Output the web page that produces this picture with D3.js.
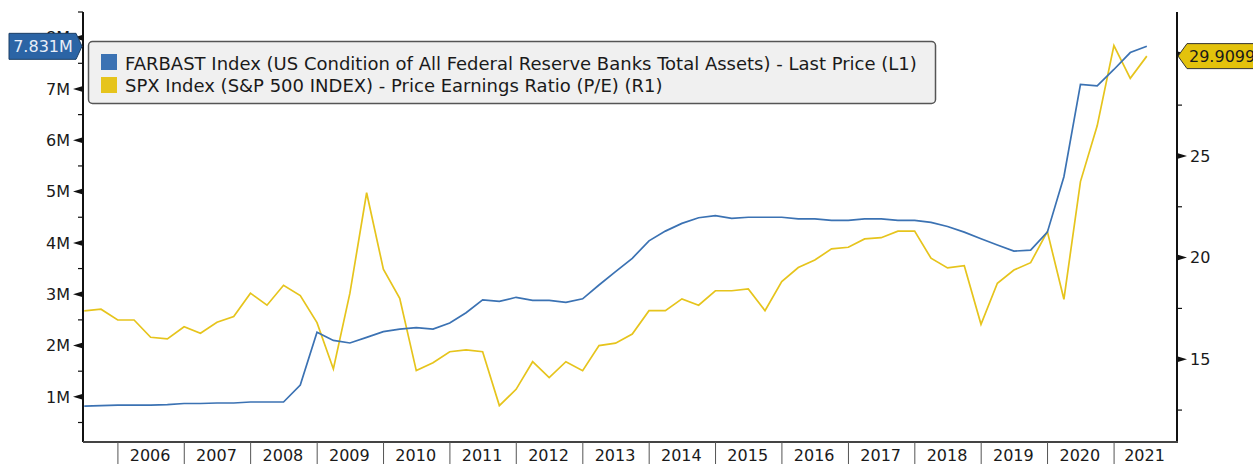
<!DOCTYPE html>
<html>
<head>
<meta charset="utf-8">
<script src="https://cdn.jsdelivr.net/npm/d3@7"></script>
<style>
  body { margin: 0; background: #fff; }
  text { font-family: "DejaVu Sans", Verdana, sans-serif; font-size: 16px; fill: #1a1a1a; }
  .legend text { font-size: 18px; }
</style>
</head>
<body>
<svg id="chart" width="1253" height="464"></svg>
<script>
// quarter end dates
var dates = [
  "2005-06-30","2005-09-30","2005-12-31",
  "2006-03-31","2006-06-30","2006-09-30","2006-12-31",
  "2007-03-31","2007-06-30","2007-09-30","2007-12-31",
  "2008-03-31","2008-06-30","2008-09-30","2008-12-31",
  "2009-03-31","2009-06-30","2009-09-30","2009-12-31",
  "2010-03-31","2010-06-30","2010-09-30","2010-12-31",
  "2011-03-31","2011-06-30","2011-09-30","2011-12-31",
  "2012-03-31","2012-06-30","2012-09-30","2012-12-31",
  "2013-03-31","2013-06-30","2013-09-30","2013-12-31",
  "2014-03-31","2014-06-30","2014-09-30","2014-12-31",
  "2015-03-31","2015-06-30","2015-09-30","2015-12-31",
  "2016-03-31","2016-06-30","2016-09-30","2016-12-31",
  "2017-03-31","2017-06-30","2017-09-30","2017-12-31",
  "2018-03-31","2018-06-30","2018-09-30","2018-12-31",
  "2019-03-31","2019-06-30","2019-09-30","2019-12-31",
  "2020-03-31","2020-06-30","2020-09-30","2020-12-31",
  "2021-03-31","2021-06-30"
];

// FARBAST, millions (shown as M)
var fedAssets = [
  0.82, 0.83, 0.84,
  0.84, 0.84, 0.85, 0.87,
  0.87, 0.88, 0.88, 0.90,
  0.90, 0.90, 1.23, 2.26,
  2.10, 2.05, 2.16, 2.27,
  2.32, 2.35, 2.32, 2.44,
  2.64, 2.89, 2.86, 2.94,
  2.88, 2.88, 2.84, 2.91,
  3.18, 3.44, 3.70, 4.04,
  4.23, 4.38, 4.49, 4.53,
  4.48, 4.50, 4.50, 4.50,
  4.47, 4.47, 4.44, 4.44,
  4.47, 4.47, 4.44, 4.44,
  4.40, 4.32, 4.21, 4.08,
  3.96, 3.84, 3.86, 4.21,
  5.29, 7.09, 7.06, 7.38,
  7.71, 7.831
];

// SPX P/E
var spxPE = [
  17.38, 17.46, 16.93,
  16.93, 16.08, 16.00, 16.60,
  16.28, 16.82, 17.10, 18.25,
  17.66, 18.64, 18.13, 16.80,
  14.52, 18.25, 23.19, 19.43,
  18.00, 14.44, 14.83, 15.37,
  15.46, 15.37, 12.72, 13.52,
  14.88, 14.10, 14.88, 14.44,
  15.67, 15.79, 16.24, 17.39,
  17.39, 17.97, 17.66, 18.37,
  18.37, 18.46, 17.39, 18.82,
  19.51, 19.88, 20.43, 20.51,
  20.92, 20.98, 21.30, 21.30,
  19.97, 19.49, 19.60, 16.72,
  18.74, 19.39, 19.75, 21.28,
  17.95, 23.74, 26.48, 30.43,
  28.82, 29.9099
];

var years = ["2006","2007","2008","2009","2010","2011","2012","2013","2014","2015","2016","2017","2018","2019","2020","2021"];
var leftTicks = [1, 2, 3, 4, 5, 6, 7, 8];
var rightTicks = [15, 20, 25, 30];

var legendLabels = [
  "FARBAST Index (US Condition of All Federal Reserve Banks Total Assets) - Last Price (L1)",
  "SPX Index (S&P 500 INDEX) - Price Earnings Ratio (P/E) (R1)"
];
var lastAssetsLabel = "7.831M";
var lastPELabel = "29.9099";

var blue = "#3b72b3", yellow = "#e6c41c";
var parse = d3.timeParse("%Y-%m-%d");

var plotL = 83, plotR = 1177, plotT = 12, plotB = 442;

var x = d3.scaleTime()
  .domain([parse("2005-06-23"), parse("2021-12-13")])
  .range([plotL, plotR]);
var yL = d3.scaleLinear().domain([0.12, 8.5]).range([plotB, plotT]);
var yR = d3.scaleLinear().domain([10.93, 32.08]).range([plotB, plotT]);

var svg = d3.select("#chart");

// lines
var blueData = dates.map(function(d, i) { return [parse(d), fedAssets[i]]; });
var yellowData = dates.map(function(d, i) { return [parse(d), spxPE[i]]; });

svg.append("path").datum(yellowData)
  .attr("fill", "none").attr("stroke", yellow).attr("stroke-width", 1.7)
  .attr("d", d3.line().x(function(d) { return x(d[0]); }).y(function(d) { return yR(d[1]); }));
svg.append("path").datum(blueData)
  .attr("fill", "none").attr("stroke", blue).attr("stroke-width", 1.7)
  .attr("d", d3.line().x(function(d) { return x(d[0]); }).y(function(d) { return yL(d[1]); }));

// left axis
svg.append("line").attr("x1", plotL).attr("x2", plotL).attr("y1", plotT).attr("y2", plotB)
  .attr("stroke", "#111").attr("stroke-width", 2);
leftTicks.forEach(function(v) {
  var yy = yL(v);
  svg.append("path").attr("d", "M" + plotL + "," + (yy - 3) + "L" + (plotL - 10) + "," + yy + "L" + plotL + "," + (yy + 3) + "Z")
    .attr("fill", "#111");
  svg.append("text").attr("x", 70).attr("y", yy).attr("dy", "0.36em")
    .attr("text-anchor", "end").text(v + "M");
  var mv = v - 0.5;
  svg.append("line").attr("x1", plotL - 5).attr("x2", plotL).attr("y1", yL(mv)).attr("y2", yL(mv))
    .attr("stroke", "#111").attr("stroke-width", 1.2);
});
svg.append("line").attr("x1", plotL - 5).attr("x2", plotL).attr("y1", yL(8.5)).attr("y2", yL(8.5))
  .attr("stroke", "#111").attr("stroke-width", 1.2);

// right axis
svg.append("line").attr("x1", plotR).attr("x2", plotR).attr("y1", plotT).attr("y2", plotB)
  .attr("stroke", "#111").attr("stroke-width", 2);
rightTicks.forEach(function(v) {
  var yy = yR(v);
  svg.append("path").attr("d", "M" + plotR + "," + (yy - 3) + "L" + (plotR + 10) + "," + yy + "L" + plotR + "," + (yy + 3) + "Z")
    .attr("fill", "#111");
  svg.append("text").attr("x", 1190).attr("y", yy).attr("dy", "0.36em").text(v);
  var mv = v - 2.5;
  svg.append("line").attr("x1", plotR).attr("x2", plotR + 5).attr("y1", yR(mv)).attr("y2", yR(mv))
    .attr("stroke", "#111").attr("stroke-width", 1.2);
});

// bottom axis
svg.append("line").attr("x1", plotL).attr("x2", plotR + 1).attr("y1", plotB).attr("y2", plotB)
  .attr("stroke", "#444").attr("stroke-width", 2);
years.forEach(function(yr) {
  var x0 = x(parse(yr + "-01-01")), x1 = x(parse((+yr + 1) + "-01-01"));
  svg.append("line").attr("x1", x0).attr("x2", x0).attr("y1", plotB).attr("y2", 464)
    .attr("stroke", "#555").attr("stroke-width", 1);
  svg.append("text").attr("x", (x0 + Math.min(x1, plotR)) / 2 - 1).attr("y", 461)
    .attr("text-anchor", "middle").text(yr);
});

// legend
var lg = svg.append("g").attr("class", "legend");
lg.append("rect").attr("x", 88.5).attr("y", 41.5).attr("width", 847).attr("height", 62).attr("rx", 4)
  .attr("fill", "#f0f0f0").attr("stroke", "#555").attr("stroke-width", 1.5);
[blue, yellow].forEach(function(c, i) {
  lg.append("rect").attr("x", 101).attr("y", 54 + i * 23).attr("width", 16).attr("height", 16).attr("fill", c);
  lg.append("text").attr("x", 125).attr("y", 70 + i * 22).text(legendLabels[i]);
});

// last value labels
var ly = yL(fedAssets[fedAssets.length - 1]);
svg.append("path")
  .attr("d", "M9," + (ly - 13) + "L76," + (ly - 13) + "L82," + ly + "L76," + (ly + 13) + "L9," + (ly + 13) + "Z")
  .attr("fill", "#2b64a5").attr("stroke", "#1c3f66").attr("stroke-width", 1);
svg.append("text").attr("x", 43).attr("y", ly).attr("dy", "0.36em").attr("text-anchor", "middle")
  .style("fill", "#e8eef8").text(lastAssetsLabel);

var ry = yR(spxPE[spxPE.length - 1]);
svg.append("path")
  .attr("d", "M1178," + ry + "L1187," + (ry - 12.5) + "L1260," + (ry - 12.5) + "L1260," + (ry + 12.5) + "L1187," + (ry + 12.5) + "Z")
  .attr("fill", "#e3c20c").attr("stroke", "#333").attr("stroke-width", 1);
svg.append("text").attr("x", 1189).attr("y", ry).attr("dy", "0.36em").text(lastPELabel);
</script>
</body>
</html>
